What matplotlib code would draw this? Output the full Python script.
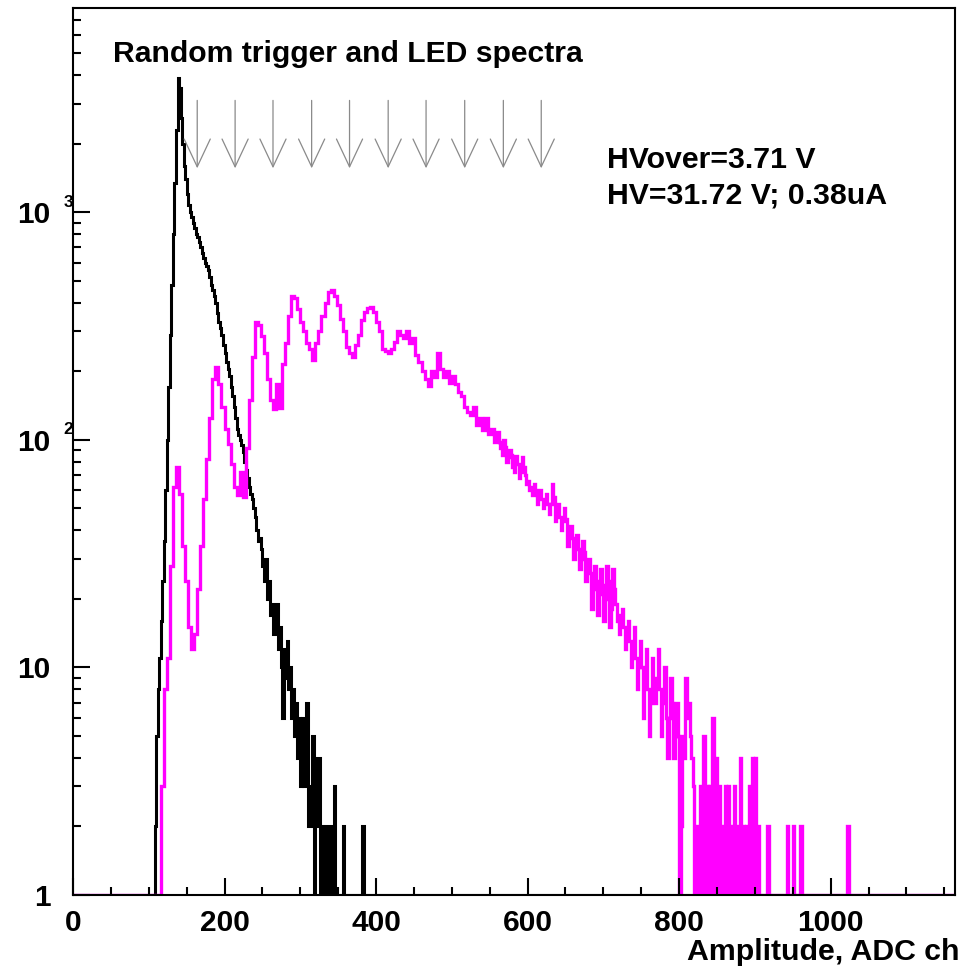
import numpy as np
import matplotlib
matplotlib.use('Agg')
import matplotlib.pyplot as plt
from matplotlib.ticker import MultipleLocator, LogLocator, NullFormatter, FixedLocator, FixedFormatter

plt.rcParams['font.family'] = ['Liberation Sans', 'DejaVu Sans']
plt.rcParams['font.weight'] = 'bold'

X_MAX = 1164

# random trigger spectrum, 2-channel bins starting at channel 104
rt_start = 104
rt_counts = [
    1, 1, 2, 5, 8, 11, 16, 24, 36, 60,                    # 104
    100, 170, 290, 480, 800, 1350, 2300, 3900, 3500, 2600,  # 124
    2000, 1600, 1400, 1200, 1080, 1000, 950, 900, 850, 800,  # 144
    780, 740, 700, 660, 630, 600, 580, 560, 520, 480,     # 164
    455, 430, 400, 360, 330, 310, 290, 260, 240, 220,     # 184
    205, 190, 170, 155, 140, 125, 112, 105, 100, 95,      # 204
    88, 80, 74, 68, 62, 58, 55, 50, 46, 40,               # 224
    36, 37, 33, 28, 24, 30, 20, 24, 17, 19,               # 244
    14, 17, 19, 12, 15, 10, 6, 12, 9, 13,                 # 264
    8, 10, 6, 8, 5, 7, 4, 6, 3, 6,                        # 284
    3, 4, 7, 2, 2, 3, 5, 1, 2, 4,                         # 304
    4, 1, 1, 2, 2, 1, 1, 2, 2, 1,                         # 324
    3, 1, 1, 0, 0, 1, 2, 0, 0, 0,                         # 344
    0, 0, 0, 0, 0, 0, 0, 0, 0, 2,                         # 364
]

# LED spectrum: 4-channel bins from 112 to 560 ...
led_start = 112
led_counts_coarse = [
    1, 3, 8, 11, 28, 62, 76, 58, 34, 24,                  # 112
    15, 12, 14, 22, 34, 55, 82, 125, 185, 208,            # 152
    175, 140, 112, 96, 78, 62, 57, 72, 56, 92,            # 192
    150, 230, 330, 318, 285, 240, 185, 150, 136, 175,     # 232
    138, 215, 265, 350, 430, 420, 375, 330, 300, 265,     # 272
    250, 225, 265, 300, 350, 400, 445, 455, 430, 390,     # 312
    340, 300, 255, 240, 232, 260, 290, 335, 365, 380,     # 352
    385, 365, 330, 300, 250, 245, 240, 250, 270, 300,     # 392
    290, 280, 300, 265, 280, 235, 220, 200, 185, 172,     # 432
    200, 188, 240, 205, 188, 200, 178, 190, 175, 162,     # 472
    155, 140, 132, 128, 140, 116, 125, 110, 125, 106,     # 512
    112, 98,                                              # 552
]
# ... and 2-channel bins from 560 on (tail)
led_tail_start = 560
led_counts_tail = [
    108, 98, 92, 86, 100, 93, 80, 84, 90, 86,   # 560
    76, 72, 85, 78, 68, 72, 84, 76, 70, 64,     # 580
    66, 60, 62, 57, 64, 60, 52, 56, 60, 55,     # 600
    50, 54, 58, 52, 47, 52, 64, 56, 44, 48,     # 620
    52, 46, 40, 44, 50, 45, 34, 38, 42, 37,     # 640
    30, 34, 38, 33, 27, 30, 36, 32, 24, 28,     # 660
    30, 26, 18, 22, 28, 24, 17, 21, 27, 23,     # 680
    16, 20, 28, 24, 15, 18, 27, 22, 19, 16,     # 700
    14, 17, 18, 15, 12, 14, 16, 13, 10, 12,     # 720
    15, 11, 8, 10, 13, 10, 6, 9, 12, 8,         # 740
    5, 7, 11, 8, 7, 9, 12, 8, 5, 7,             # 760
    10, 6, 4, 6, 9, 7, 4, 5, 7, 5,              # 780
    1, 2, 5, 4, 9, 6, 7, 5, 4, 3,               # 800
    1, 2, 0, 1, 3, 1, 5, 1, 3, 1,               # 820
    3, 1, 6, 1, 4, 1, 3, 1, 2, 1,               # 840
    3, 1, 3, 1, 2, 1, 3, 1, 2, 1,               # 860
    4, 1, 2, 1, 2, 1, 3, 1, 4, 1,               # 880
    4, 1, 2, 1, 0, 1, 1, 0, 2, 0,               # 900
    1, 0, 0, 1, 1, 0, 0, 0, 1, 0,               # 920
    0, 2, 0, 1, 0, 2, 0, 1, 0, 0,               # 940
    2, 1, 0, 0, 0, 1, 0, 0, 0, 0,               # 960
    0, 0, 1, 0, 0, 0, 0, 0, 0, 0,               # 980
    0, 0, 0, 0, 0, 0, 0, 0, 0, 0,               # 1000
    0, 2,                                       # 1020
]

# expected photoelectron peak positions (arrows)
arrow_x = [164, 214, 264, 315, 365, 416, 466, 517, 568, 618]
arrow_top = 3100
arrow_tip = 1560


def build_hist(segments):
    """segments: list of (first channel, bin width, counts) -> edges, values"""
    edges = [0.0]
    vals = []
    for start, width, counts in segments:
        if start > edges[-1]:
            vals.append(0)
            edges.append(start)
        for c in counts:
            vals.append(c)
            edges.append(edges[-1] + width)
    if edges[-1] < X_MAX:
        vals.append(0)
        edges.append(X_MAX)
    return np.array(edges), np.array(vals, dtype=float)


rt_edges, rt_hist = build_hist([(rt_start, 2, rt_counts)])
led_edges, led_hist = build_hist([(led_start, 4, led_counts_coarse),
                                  (led_tail_start, 2, led_counts_tail)])

fig = plt.figure(figsize=(9.65, 9.69), dpi=100)
ax = fig.add_axes([0.0756, 0.0764, 0.914, 0.9154])

# log scale: empty bins sit on the bottom of the frame like ROOT
ax.stairs(np.clip(rt_hist, 1, None), rt_edges, baseline=None, color='black', lw=2.2)
ax.stairs(np.clip(led_hist, 1, None), led_edges, baseline=None, color='#ff00ff', lw=2.4)

for xa in arrow_x:
    ax.annotate('', xy=(xa, arrow_tip), xytext=(xa, arrow_top),
                arrowprops=dict(arrowstyle='->, head_length=1.0, head_width=0.47',
                                color='#8a8a8a', lw=0.9, mutation_scale=20,
                                shrinkA=0, shrinkB=0))

ax.set_yscale('log')
ax.set_xlim(0, X_MAX)
ax.set_ylim(1, 7900)

ax.xaxis.set_major_locator(MultipleLocator(200))
ax.xaxis.set_minor_locator(MultipleLocator(50))
ax.yaxis.set_major_locator(FixedLocator([1, 10, 100, 1000]))
ax.yaxis.set_major_formatter(FixedFormatter(['1', '10', '10', '10']))
ax.yaxis.set_minor_locator(LogLocator(base=10, subs=np.arange(2, 10)))
ax.yaxis.set_minor_formatter(NullFormatter())

ax.tick_params(which='both', direction='in', top=False, right=False, width=1.5)
ax.tick_params(which='major', length=12)
ax.tick_params(which='minor', length=6)
ax.tick_params(axis='x', which='major', labelsize=21.5, pad=10)
ax.tick_params(axis='y', which='major', labelsize=21.5, pad=16)
for lab in ax.get_xticklabels() + ax.get_yticklabels():
    lab.set_fontweight('bold')
for sp in ax.spines.values():
    sp.set_linewidth(1.5)

# exponents of the y labels
ytrans = ax.get_yaxis_transform()
for exp in [2, 3]:
    ax.text(-0.0105, 10 ** exp * 1.107, str(exp), transform=ytrans,
            ha='left', va='center', fontsize=12.5, fontweight='bold')

ax.text(0.045, 0.939, 'Random trigger and LED spectra', transform=ax.transAxes,
        fontsize=21.7, fontweight='bold', va='baseline', ha='left')
ax.text(0.605, 0.8196, 'HVover=3.71 V', transform=ax.transAxes,
        fontsize=21.8, fontweight='bold', va='baseline', ha='left')
ax.text(0.605, 0.780, 'HV=31.72 V; 0.38uA', transform=ax.transAxes,
        fontsize=21.8, fontweight='bold', va='baseline', ha='left')
ax.text(1.0057, -0.073, 'Amplitude, ADC ch', transform=ax.transAxes,
        fontsize=21.8, fontweight='bold', va='baseline', ha='right')

fig.savefig('out.png', dpi=100)
